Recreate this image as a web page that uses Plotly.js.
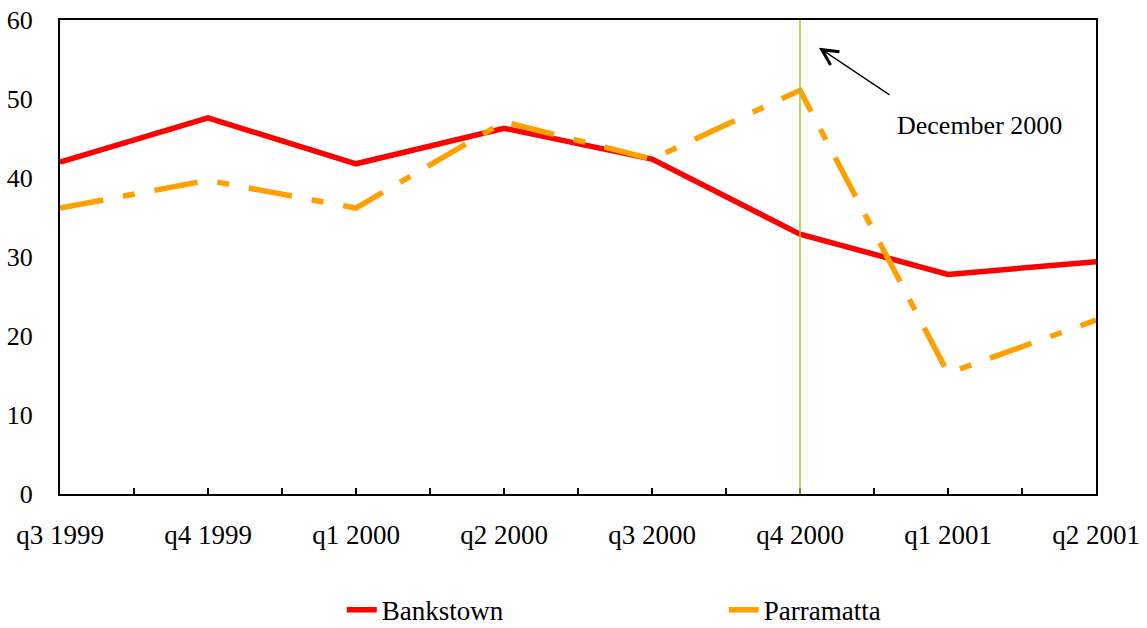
<!DOCTYPE html>
<html>
<head>
<meta charset="utf-8">
<script src="https://cdn.plot.ly/plotly-3.0.1.min.js"></script>
<style>html,body{margin:0;padding:0;background:#fff;}#chart{width:1147px;height:628px;}</style>
</head>
<body>
<div id="chart"></div>
<script>
const quarters = ["q3 1999","q4 1999","q1 2000","q2 2000","q3 2000","q4 2000","q1 2001","q2 2001"];
const bankstown = [42.0, 47.6, 41.8, 46.3, 42.4, 32.9, 27.8, 29.4];
const parramatta = [36.2, 39.7, 36.2, 47.1, 42.4, 51.1, 15.3, 22.0];
const markerQuarter = "q4 2000";
const annotationText = "December 2000";

const xs = quarters.map((q, i) => i);
const markerX = quarters.indexOf(markerQuarter);
const font = "Liberation Serif, Times New Roman, serif";

const traces = [
  {x: xs, y: bankstown, name: "Bankstown", mode: "lines", type: "scatter",
   line: {color: "#ff0000", width: 5.5}},
  {x: xs, y: parramatta, name: "Parramatta", mode: "lines", type: "scatter",
   line: {color: "#ffa000", width: 5.5, dash: "44px,20px,12px,20px"}}
];

const layout = {
  width: 1147, height: 628,
  margin: {l: 60, r: 51, t: 20, b: 134, autoexpand: false},
  paper_bgcolor: "#fff", plot_bgcolor: "#fff",
  font: {family: font, size: 26, color: "#000"},
  showlegend: true,
  legend: {orientation: "h", x: 0.272, xanchor: "left", y: -0.245, yanchor: "middle",
           entrywidth: 337, font: {family: font, size: 27}, traceorder: "normal",
           bgcolor: "rgba(0,0,0,0)"},
  xaxis: {range: [0, quarters.length - 1], tickvals: xs, ticktext: quarters,
          showgrid: false, zeroline: false, showline: true, linecolor: "#000", linewidth: 2,
          mirror: true, ticks: "inside", ticklen: 6, tickwidth: 1.5, tickcolor: "#000",
          ticklabelstandoff: 16,
          minor: {dtick: 0.5, tick0: 0, ticks: "inside", ticklen: 6, tickwidth: 1.5, tickcolor: "#000"},
          tickfont: {family: font, size: 27}},
  yaxis: {range: [0, 60], dtick: 10, showgrid: false, zeroline: false, showline: true,
          linecolor: "#000", linewidth: 2, mirror: true, ticks: "", ticklabelstandoff: 20,
          tickfont: {family: font, size: 26}},
  shapes: [{type: "line", xref: "x", yref: "y", x0: markerX, x1: markerX, y0: 0, y1: 60,
            line: {color: "#9acd32", width: 1.5}}],
  annotations: [
    {xref: "x", yref: "y", x: markerX + 0.128, y: 56.5, axref: "x", ayref: "y",
     ax: markerX + 0.615, ay: 50.4, text: "", showarrow: true, arrowhead: 5,
     arrowsize: 2.4, arrowwidth: 1.3, arrowcolor: "#000", standoff: 0, startstandoff: 0},
    {xref: "x", yref: "y", x: markerX + 1.216, y: 46.7, text: annotationText, showarrow: false,
     font: {family: font, size: 26, color: "#000"}}
  ]
};

Plotly.newPlot("chart", traces, layout, {displayModeBar: false, staticPlot: true});
</script>
</body>
</html>
